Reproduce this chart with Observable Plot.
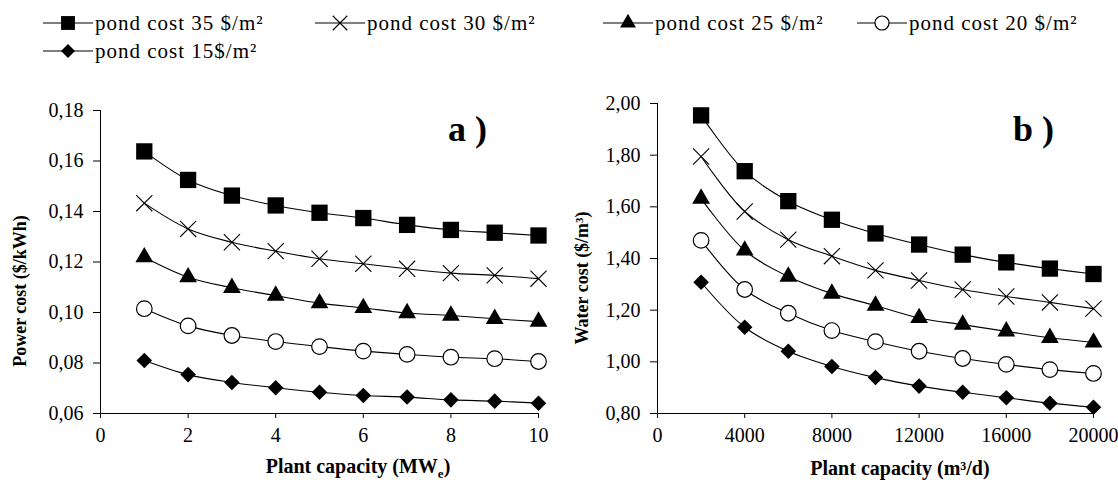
<!DOCTYPE html>
<html>
<head>
<meta charset="utf-8">
<script src="https://cdn.jsdelivr.net/npm/d3@7"></script>
<script src="https://cdn.jsdelivr.net/npm/@observablehq/plot@0.6"></script>
<style>
  body { margin: 0; background: white; font-family: 'Liberation Serif'; }
  #wrap { position: relative; width: 1118px; height: 480px; background: white; color: black; overflow: hidden; }
  .abs { position: absolute; white-space: nowrap; }
  .leg { position: absolute; display: flex; align-items: center; font-size: 21px; letter-spacing: 1px; white-space: nowrap; }
  .leg svg { margin-right: 2px; }
  .xt { font-weight: bold; font-size: 20px; transform: translate(-50%, -50%); }
  .yt { font-weight: bold; font-size: 18px; transform: translate(-50%, -50%) rotate(-90deg); }
  .pl { font-weight: bold; font-size: 36px; }
</style>
</head>
<body>
<div id="wrap"></div>
<script>
// ---------- data ----------
const seriesNames = ["pond cost 35 $/m²", "pond cost 30 $/m²", "pond cost 25 $/m²", "pond cost 20 $/m²", "pond cost 15$/m²"];
const seriesSymbols = ["square", "times", "triangle", "circle", "diamond2"];

// panel a) power cost ($/kWh) vs plant capacity (MWe)
const capacityMW = [1, 2, 3, 4, 5, 6, 7, 8, 9, 10];
const power35 = [0.1638, 0.1525, 0.1463, 0.1424, 0.1395, 0.1374, 0.1347, 0.1327, 0.1316, 0.1305];
const power30 = [0.1433, 0.1331, 0.1278, 0.1243, 0.1213, 0.1193, 0.1173, 0.1156, 0.1147, 0.1134];
const power25 = [0.1219, 0.1140, 0.1098, 0.1067, 0.1037, 0.1018, 0.0998, 0.0988, 0.0975, 0.0964];
const power20 = [0.1015, 0.0947, 0.0909, 0.0885, 0.0865, 0.0847, 0.0834, 0.0823, 0.0817, 0.0806];
const power15 = [0.0810, 0.0754, 0.0723, 0.0702, 0.0684, 0.0671, 0.0665, 0.0654, 0.0649, 0.0641];

// panel b) water cost ($/m³) vs plant capacity (m³/d)
const capacityM3 = [2000, 4000, 6000, 8000, 10000, 12000, 14000, 16000, 18000, 20000];
const water35 = [1.954, 1.738, 1.622, 1.550, 1.497, 1.454, 1.415, 1.385, 1.361, 1.340];
const water30 = [1.795, 1.582, 1.473, 1.409, 1.354, 1.315, 1.280, 1.253, 1.230, 1.206];
const water25 = [1.632, 1.431, 1.330, 1.264, 1.218, 1.170, 1.144, 1.118, 1.093, 1.075];
const water20 = [1.470, 1.280, 1.188, 1.121, 1.078, 1.041, 1.013, 0.990, 0.970, 0.955];
const water15 = [1.308, 1.134, 1.041, 0.982, 0.939, 0.906, 0.882, 0.861, 0.840, 0.824];

const xTicksA = [0, 2, 4, 6, 8, 10];
const yTicksA = [0.06, 0.08, 0.10, 0.12, 0.14, 0.16, 0.18];
const xTicksB = [0, 4000, 8000, 12000, 16000, 20000];
const yTicksB = [0.80, 1.00, 1.20, 1.40, 1.60, 1.80, 2.00];

// ---------- helpers ----------
const FONT = "'Liberation Serif'";
const powerSeries = [power35, power30, power25, power20, power15];
const waterSeries = [water35, water30, water25, water20, water15];
function toRows(xs, series) {
  const rows = [];
  series.forEach((vals, i) => vals.forEach((v, j) => rows.push({series: seriesNames[i], sym: seriesSymbols[i], x: xs[j], y: v})));
  return rows;
}
const rowsA = toRows(capacityMW, powerSeries);
const rowsB = toRows(capacityM3, waterSeries);

const symStyle = {
  square:   {r: 9.2, fill: "black", stroke: "none"},
  times:    {r: 7.4, fill: "none", stroke: "black", strokeWidth: 1.1},
  triangle: {r: 6.6, fill: "black", stroke: "none"},
  circle:   {r: 7.8, fill: "white", stroke: "black", strokeWidth: 1.2},
  diamond2: {r: 7.0, fill: "black", stroke: "none"}
};
const comma = d => d.toFixed(2).replace(".", ",");

function makePlot(rows, cfg) {
  const marks = [
    Plot.axisY({ticks: cfg.yTicks, tickFormat: comma, tickSize: 7, tickPadding: 10, label: null, fontFamily: FONT}),
    Plot.axisX({ticks: cfg.xTicks, tickFormat: d => String(d), tickSize: 5, tickPadding: 9, label: null, fontFamily: FONT}),
    Plot.ruleX([0], {stroke: "black", strokeWidth: 1}),
    Plot.ruleY([cfg.yDomain[0]], {stroke: "black", strokeWidth: 1}),
    Plot.line(rows, {x: "x", y: "y", z: "series", curve: "catmull-rom", stroke: "black", strokeWidth: 1.1})
  ];
  seriesSymbols.forEach(s => {
    const st = symStyle[s];
    marks.push(Plot.dot(rows.filter(d => d.sym === s), {x: "x", y: "y", symbol: () => s, r: st.r, fill: st.fill, stroke: st.stroke, strokeWidth: st.strokeWidth || 1}));
  });
  const svg = Plot.plot({
    width: 559, height: 400,
    marginLeft: cfg.ml, marginRight: cfg.mr, marginTop: cfg.mt, marginBottom: 67,
    x: {domain: cfg.xDomain},
    y: {domain: cfg.yDomain},
    symbol: {type: "identity"},
    style: {fontFamily: FONT, fontSize: "20px", color: "black", background: "white", overflow: "visible"},
    marks
  });
  return svg;
}

const wrap = document.getElementById("wrap");

const pA = makePlot(rowsA, {xDomain: [0, 10], yDomain: [0.06, 0.18], xTicks: xTicksA, yTicks: yTicksA, ml: 100, mr: 21, mt: 30});
pA.style.position = "absolute"; pA.style.left = "0px"; pA.style.top = "80px";
wrap.appendChild(pA);

const pB = makePlot(rowsB, {xDomain: [0, 20000], yDomain: [0.80, 2.00], xTicks: xTicksB, yTicks: yTicksB, ml: 98, mr: 25, mt: 23});
pB.style.position = "absolute"; pB.style.left = "559px"; pB.style.top = "80px";
wrap.appendChild(pB);

// legend
const legPos = [[43, 23], [315, 23], [603, 23], [857, 23], [43, 51]];
const typeMap = {square: d3.symbolSquare, times: d3.symbolTimes, triangle: d3.symbolTriangle, circle: d3.symbolCircle, diamond2: d3.symbolDiamond2};
seriesNames.forEach((name, i) => {
  const s = seriesSymbols[i];
  const st = symStyle[s];
  const div = document.createElement("div");
  div.className = "leg";
  div.style.left = legPos[i][0] + "px";
  div.style.top = (legPos[i][1] - 13) + "px";
  div.style.height = "26px";
  const svg = d3.create("svg").attr("width", 50).attr("height", 26);
  svg.append("line").attr("x1", 0).attr("x2", 50).attr("y1", 13).attr("y2", 13).attr("stroke", "black").attr("stroke-width", 1.1);
  const sc = s === "square" ? 0.85 : 0.9;
  svg.append("path").attr("transform", "translate(25,13)")
    .attr("d", d3.symbol(typeMap[s], Math.PI * (st.r * sc) ** 2)())
    .attr("fill", st.fill).attr("stroke", st.stroke).attr("stroke-width", st.strokeWidth || 1);
  div.appendChild(svg.node());
  const span = document.createElement("span");
  span.textContent = name;
  div.appendChild(span);
  wrap.appendChild(div);
});

// axis titles and panel labels
function addText(html, cls, x, y) {
  const d = document.createElement("div");
  d.className = "abs " + cls;
  d.style.left = x + "px"; d.style.top = y + "px";
  d.innerHTML = html;
  wrap.appendChild(d);
}
addText("Plant capacity (MW<sub style='font-size:13px'>e</sub>)", "xt", 358, 468);
addText("Plant capacity (m³/d)", "xt", 900, 468);
addText("Power cost ($/kWh)", "yt", 20, 291);
addText("Water cost ($/m³)", "yt", 582, 278);
addText("a )", "pl", 448, 108);
addText("b )", "pl", 1013, 108);
</script>
</body>
</html>
